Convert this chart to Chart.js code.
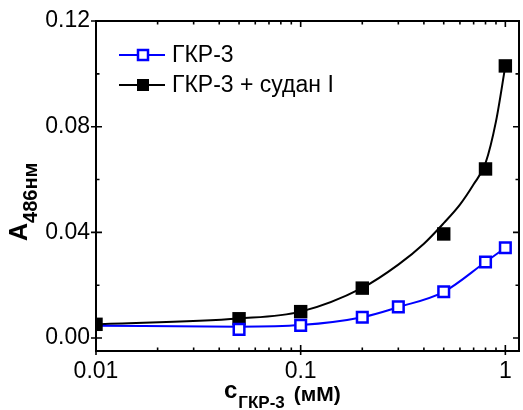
<!DOCTYPE html>
<html><head><meta charset="utf-8">
<script src="https://cdn.jsdelivr.net/npm/chart.js@4.4.1/dist/chart.umd.min.js"></script>
<style>html,body{margin:0;padding:0;background:#fff;} #wrap{position:relative;width:523px;height:410px;}</style>
</head><body><div id="wrap"><canvas id="c" width="523" height="410"></canvas></div>
<script>
// ---- data ----
const seriesNames = ['ГКР-3', 'ГКР-3 + судан I'];
const markerXBlue = [0.05, 0.1, 0.2, 0.3, 0.5, 0.8, 1.0];
const markerYBlue = [0.0033, 0.0048, 0.0079, 0.0118, 0.0175, 0.0288, 0.0342];
const markerXBlack = [0.01, 0.05, 0.1, 0.2, 0.5, 0.8, 1.0];
const markerYBlack = [0.0052, 0.0073, 0.0100, 0.0189, 0.0394, 0.0640, 0.1030];
const curveXBlue = [0.01, 0.05, 0.1, 0.2, 0.3, 0.5, 0.8, 1.0];
const curveYBlue = [0.0047, 0.0043, 0.0049, 0.0079, 0.0117, 0.0175, 0.0288, 0.0342];
const curveXBlack = [0.01, 0.05, 0.1, 0.2, 0.3, 0.4, 0.5, 0.6, 0.7, 0.8, 0.9, 1.0];
const curveYBlack = [0.0052, 0.0074, 0.0100, 0.0190, 0.0278, 0.0357, 0.0435, 0.0505, 0.0582, 0.0662, 0.0820, 0.1030];
const xTicks = [0.01, 0.1, 1];
const xMinorTicks = [0.02, 0.03, 0.04, 0.05, 0.06, 0.07, 0.08, 0.09, 0.2, 0.3, 0.4, 0.5, 0.6, 0.7, 0.8, 0.9];
const yTicks = [0.00, 0.04, 0.08, 0.12];
const yMinorTicks = [0.02, 0.06, 0.10];
const xTitleMain = 'c', xTitleSub = 'ГКР-3', xTitleUnit = '(мМ)';
const yTitleMain = 'A', yTitleSub = '486нм';

const BLUE = 'rgb(0,0,255)';
const FONT = '"Liberation Sans", Arial, sans-serif';
const pts = (xs, ys) => xs.map((x, i) => ({x: x, y: ys[i]}));

const decorPlugin = {
  id: 'decor',
  afterDatasetsDraw(chart) {
    const ctx = chart.ctx, a = chart.chartArea;
    const xs = chart.scales.x, ys = chart.scales.y;
    ctx.save();
    ctx.strokeStyle = '#000';
    ctx.lineCap = 'butt';
    // frame
    ctx.lineWidth = 2;
    ctx.strokeRect(a.left, a.top, a.right - a.left, a.bottom - a.top);
    // ticks
    ctx.lineWidth = 1.6;
    ctx.beginPath();
    yTicks.forEach(v => {
      const y = ys.getPixelForValue(v);
      ctx.moveTo(a.left - 5, y); ctx.lineTo(a.left + 6, y);
      ctx.moveTo(a.right, y); ctx.lineTo(a.right - 6, y);
    });
    yMinorTicks.forEach(v => {
      const y = ys.getPixelForValue(v);
      ctx.moveTo(a.left, y); ctx.lineTo(a.left + 3.5, y);
      ctx.moveTo(a.right, y); ctx.lineTo(a.right - 3.5, y);
    });
    xTicks.forEach(v => {
      const x = xs.getPixelForValue(v);
      ctx.moveTo(x, a.bottom + 4); ctx.lineTo(x, a.bottom - 6);
      ctx.moveTo(x, a.top); ctx.lineTo(x, a.top + 6);
    });
    xMinorTicks.forEach(v => {
      const x = xs.getPixelForValue(v);
      ctx.moveTo(x, a.bottom); ctx.lineTo(x, a.bottom - 3.5);
      ctx.moveTo(x, a.top); ctx.lineTo(x, a.top + 3.5);
    });
    ctx.stroke();

    // legend
    const rows = [
      {y: 55, color: BLUE, open: true, label: seriesNames[0]},
      {y: 85, color: '#000', open: false, label: seriesNames[1]}
    ];
    rows.forEach(r => {
      ctx.strokeStyle = r.color;
      ctx.lineWidth = 2;
      ctx.beginPath();
      ctx.moveTo(119, r.y); ctx.lineTo(165, r.y);
      ctx.stroke();
      if (r.open) {
        ctx.fillStyle = '#fff';
        ctx.fillRect(138, r.y - 5, 10, 10);
        ctx.lineWidth = 2.5;
        ctx.strokeRect(138, r.y - 5, 10, 10);
      } else {
        ctx.fillStyle = '#000';
        ctx.fillRect(137, r.y - 6, 12, 12);
      }
      ctx.fillStyle = '#000';
      ctx.font = '23px ' + FONT;
      ctx.textBaseline = 'middle';
      ctx.textAlign = 'left';
      ctx.fillText(r.label, 172, r.y + 1);
    });

    // y title (rotated)
    ctx.fillStyle = '#000';
    ctx.save();
    ctx.translate(27, 241);
    ctx.rotate(-Math.PI / 2);
    ctx.textBaseline = 'alphabetic';
    ctx.textAlign = 'left';
    ctx.font = 'bold 25px ' + FONT;
    ctx.fillText(yTitleMain, 0, 0);
    const wa = ctx.measureText(yTitleMain).width;
    ctx.font = 'bold 20px ' + FONT;
    ctx.fillText(yTitleSub, wa, 10);
    ctx.restore();

    // x title
    ctx.textBaseline = 'alphabetic';
    ctx.textAlign = 'left';
    ctx.font = 'bold 24px ' + FONT;
    ctx.fillText(xTitleMain, 224, 398);
    let xp = 224 + ctx.measureText(xTitleMain).width + 1;
    ctx.font = 'bold 17px ' + FONT;
    ctx.fillText(xTitleSub, xp, 408);
    xp += ctx.measureText(xTitleSub).width + 9;
    ctx.font = 'bold 21px ' + FONT;
    ctx.fillText(xTitleUnit, xp, 401);
    ctx.restore();
  }
};

new Chart(document.getElementById('c'), {
  type: 'scatter',
  data: {
    datasets: [
      {label: seriesNames[1] + ' fit', data: pts(curveXBlack, curveYBlack), showLine: true,
       borderColor: '#000', borderWidth: 2, pointRadius: 0, cubicInterpolationMode: 'monotone', clip: 0, order: 4},
      {label: seriesNames[0] + ' fit', data: pts(curveXBlue, curveYBlue), showLine: true,
       borderColor: BLUE, borderWidth: 2, pointRadius: 0, cubicInterpolationMode: 'monotone', clip: 0, order: 3},
      {label: seriesNames[1], data: pts(markerXBlack, markerYBlack), showLine: false,
       pointStyle: 'rect', pointRadius: 9.5, backgroundColor: '#000', borderColor: '#000', borderWidth: 0, clip: 0, order: 2},
      {label: seriesNames[0], data: pts(markerXBlue, markerYBlue), showLine: false,
       pointStyle: 'rect', pointRadius: 7.5, backgroundColor: '#fff', borderColor: BLUE, borderWidth: 2.5, clip: 0, order: 1}
    ]
  },
  options: {
    responsive: false,
    animation: false,
    events: [],
    layout: {autoPadding: false, padding: {top: 21, right: 4, left: 0, bottom: 0}},
    plugins: {legend: {display: false}, tooltip: {enabled: false}, title: {display: false}},
    scales: {
      x: {
        type: 'logarithmic', min: 0.01, max: 1.166, position: 'bottom',
        grid: {display: false, drawTicks: false},
        border: {display: false},
        afterBuildTicks: s => { s.ticks = xTicks.map(v => ({value: v})); },
        afterFit: s => { s.height = 59; s.paddingLeft = 0; s.paddingRight = 0; },
        ticks: {
          autoSkip: false, maxRotation: 0, padding: 7, color: '#000',
          font: {family: FONT, size: 23},
          callback: v => String(v)
        }
      },
      y: {
        type: 'linear', min: -0.0049, max: 0.12,
        grid: {display: false, drawTicks: false},
        border: {display: false},
        afterBuildTicks: s => { s.ticks = yTicks.map(v => ({value: v})); },
        afterFit: s => { s.width = 96; s.paddingTop = 0; s.paddingBottom = 0; },
        ticks: {
          padding: 6, color: '#000',
          font: {family: FONT, size: 23},
          callback: v => Number(v).toFixed(2)
        }
      }
    }
  },
  plugins: [decorPlugin]
});
</script>
</body></html>
